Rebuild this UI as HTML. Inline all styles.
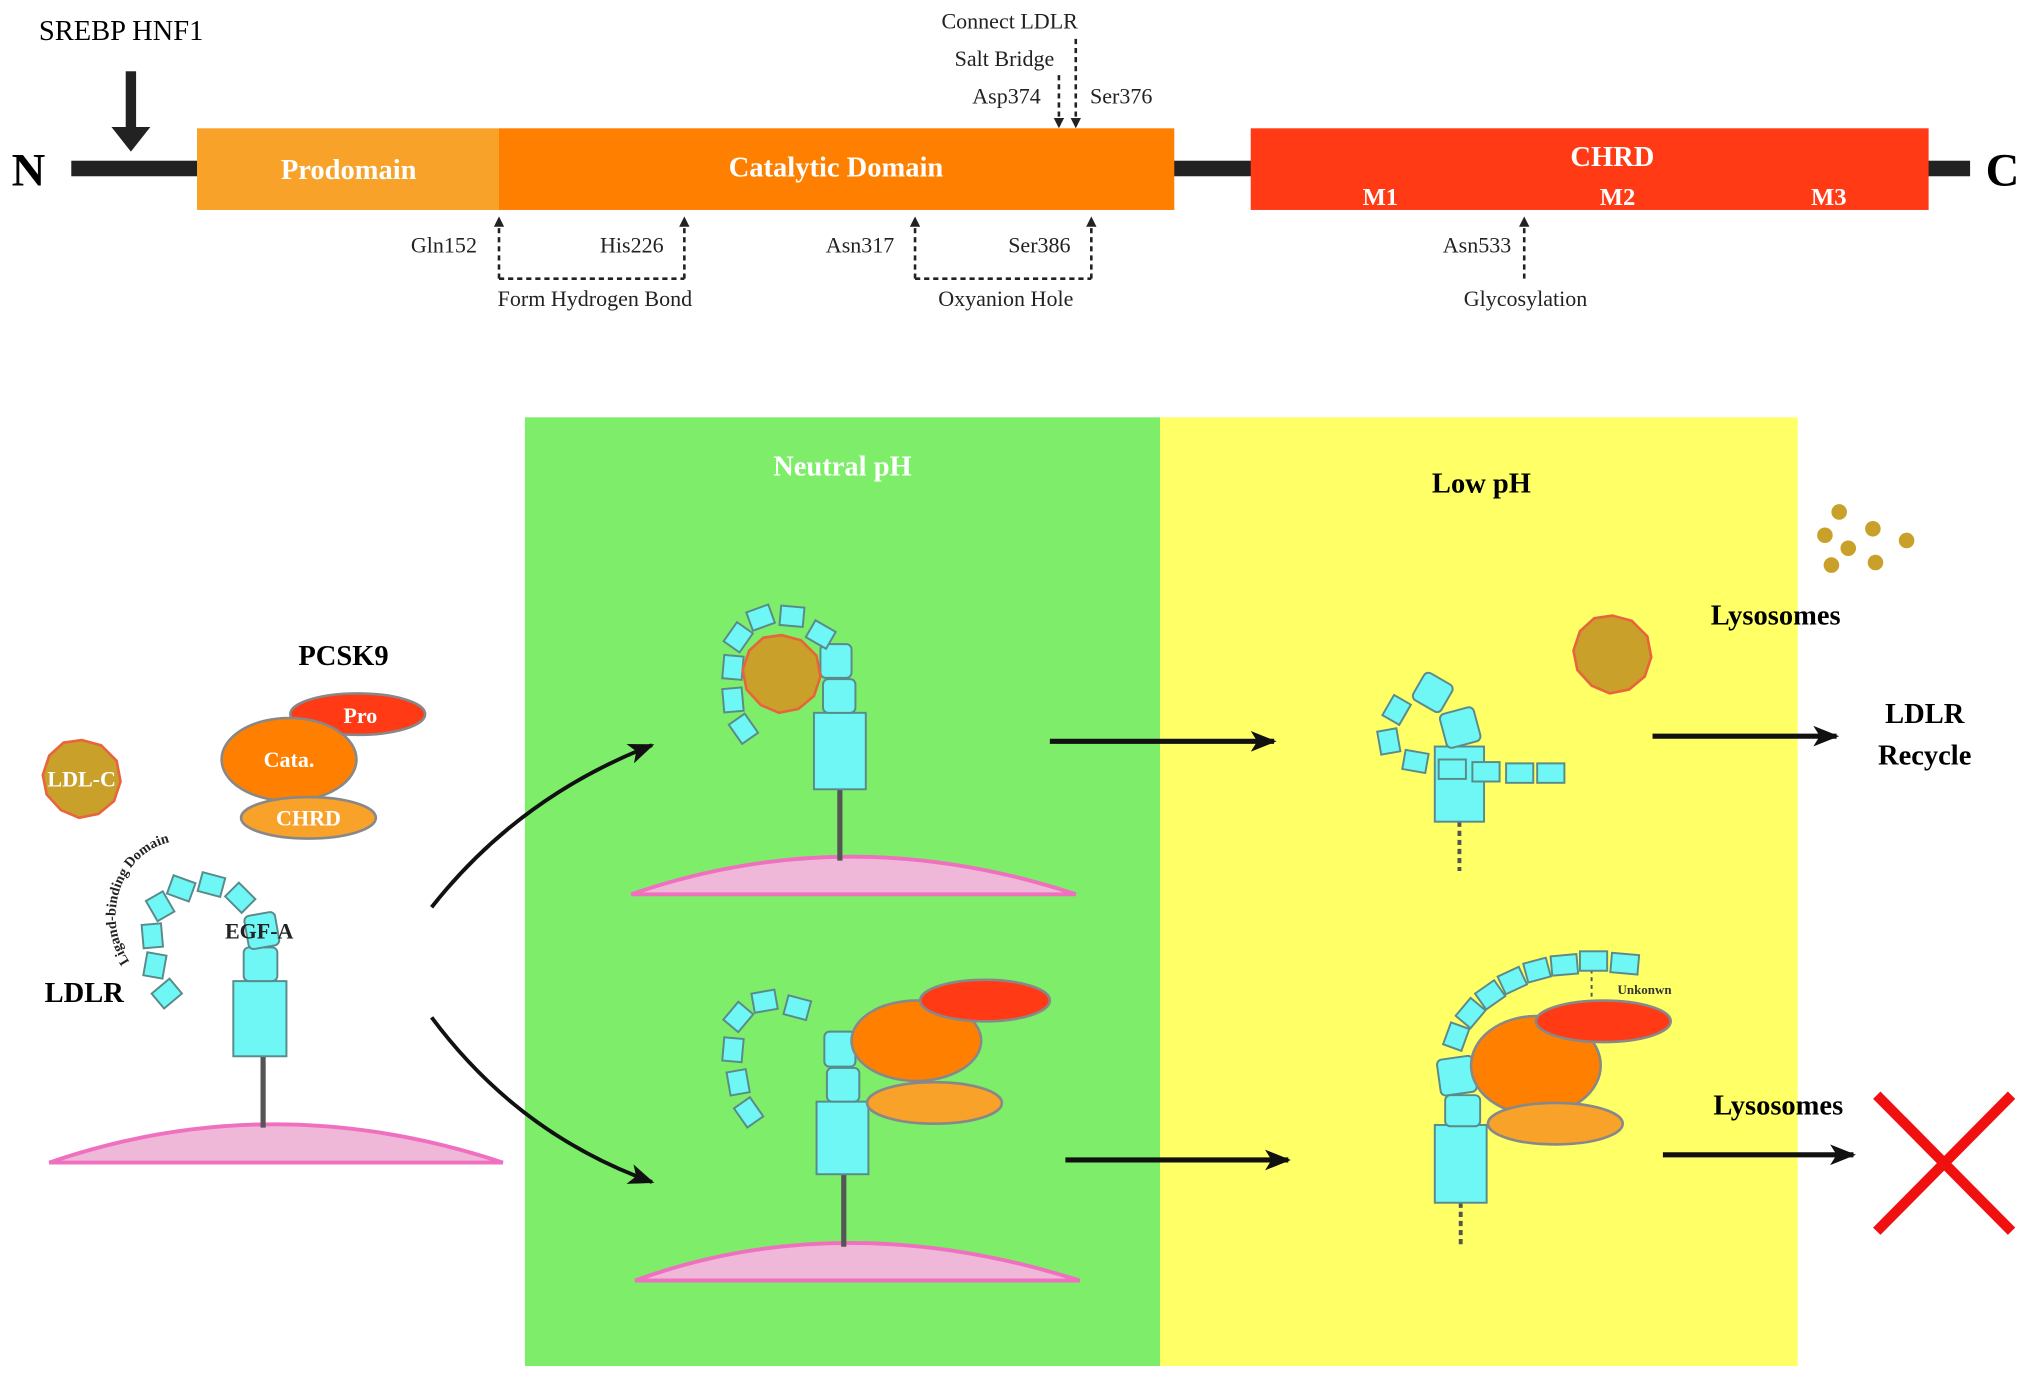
<!DOCTYPE html>
<html><head><meta charset="utf-8"><style>html,body{margin:0;padding:0;background:#fff}svg{display:block}</style></head>
<body>
<svg width="2031" height="1379" viewBox="0 0 1567 1064" preserveAspectRatio="none" xmlns="http://www.w3.org/2000/svg" font-family="Liberation Serif, serif">
<defs>
<marker id="ah" markerWidth="8" markerHeight="8" refX="7" refY="4" orient="auto" markerUnits="userSpaceOnUse"><path d="M0,0 L8,4 L0,8 z" fill="#222"/></marker>
<marker id="ab" markerWidth="20" markerHeight="16" refX="18" refY="8" orient="auto" markerUnits="userSpaceOnUse"><path d="M0,0 L20,8 L0,16 L5,8 z" fill="#111"/></marker>
<path id="arcL" d="M100,742 A52,58 0 0 1 180,668"/>
</defs>
<!-- top bar -->
<rect x="55" y="124" width="1465" height="12" fill="#222"/>
<rect x="152" y="99" width="233" height="63" fill="#f9a22a"/>
<rect x="385" y="99" width="521" height="63" fill="#ff8000"/>
<rect x="965" y="99" width="523" height="63" fill="#ff3a14"/>
<text x="22" y="143" font-size="36" font-weight="bold" text-anchor="middle">N</text>
<text x="1545" y="143" font-size="36" font-weight="bold" text-anchor="middle">C</text>
<g fill="#fff" font-weight="bold" text-anchor="middle">
<text x="269" y="138" font-size="22">Prodomain</text>
<text x="645" y="136" font-size="22">Catalytic Domain</text>
<text x="1244" y="128" font-size="22">CHRD</text>
<text x="1065" y="158" font-size="19">M1</text>
<text x="1248" y="158" font-size="19">M2</text>
<text x="1411" y="158" font-size="19">M3</text>
</g>
<text x="30" y="31" font-size="22">SREBP HNF1</text>
<rect x="97" y="55" width="8" height="47" fill="#222"/>
<path d="M86,98 L116,98 L101,117 z" fill="#222"/>
<g font-size="17" fill="#222">
<text x="779" y="22" text-anchor="middle">Connect LDLR</text>
<text x="775" y="51" text-anchor="middle">Salt Bridge</text>
<text x="803" y="80" text-anchor="end">Asp374</text>
<text x="841" y="80">Ser376</text>
<text x="368" y="195" text-anchor="end">Gln152</text>
<text x="512" y="195" text-anchor="end">His226</text>
<text x="690" y="195" text-anchor="end">Asn317</text>
<text x="826" y="195" text-anchor="end">Ser386</text>
<text x="1166" y="195" text-anchor="end">Asn533</text>
<text x="459" y="236" text-anchor="middle">Form Hydrogen Bond</text>
<text x="776" y="236" text-anchor="middle">Oxyanion Hole</text>
<text x="1177" y="236" text-anchor="middle">Glycosylation</text>
</g>
<g stroke="#222" stroke-width="2" stroke-dasharray="4,3" fill="none">
<path d="M817,58 L817,98" marker-end="url(#ah)"/>
<path d="M830,30 L830,98" marker-end="url(#ah)"/>
<path d="M385,215 L385,168" marker-end="url(#ah)"/>
<path d="M528,215 L528,168" marker-end="url(#ah)"/>
<path d="M385,215 L528,215"/>
<path d="M706,215 L706,168" marker-end="url(#ah)"/>
<path d="M842,215 L842,168" marker-end="url(#ah)"/>
<path d="M706,215 L842,215"/>
<path d="M1176,215 L1176,168" marker-end="url(#ah)"/>
</g>
<!-- panels -->
<rect x="405" y="322" width="490" height="732" fill="#7ded6a"/>
<rect x="895" y="322" width="492" height="732" fill="#ffff66"/>
<text x="650" y="367" font-size="22" font-weight="bold" fill="#fff" text-anchor="middle">Neutral pH</text>
<text x="1143" y="380" font-size="22" font-weight="bold" text-anchor="middle">Low pH</text>
<g font-size="22" font-weight="bold" text-anchor="middle">
<text x="1370" y="482">Lysosomes</text>
<text x="1485" y="558">LDLR</text>
<text x="1485" y="590">Recycle</text>
<text x="1372" y="860">Lysosomes</text>
<text x="265" y="513">PCSK9</text>
<text x="65" y="773">LDLR</text>
</g>
<!-- left PCSK9 -->
<ellipse cx="276" cy="551" rx="52" ry="16" fill="#ff3a14" stroke="#888" stroke-width="2"/>
<ellipse cx="223" cy="586" rx="52" ry="32" fill="#ff8000" stroke="#888" stroke-width="2"/>
<ellipse cx="238" cy="631" rx="52" ry="16" fill="#f9a22a" stroke="#888" stroke-width="2"/>
<g fill="#fff" font-size="17" font-weight="bold" text-anchor="middle">
<text x="278" y="558">Pro</text><text x="223" y="592">Cata.</text><text x="238" y="637">CHRD</text>
</g>
<polygon points="63,571 78,575 90,587 93,603 88,618 76,628 61,631 47,625 36,613 33,598 38,583 49,573" fill="#c8a02a" stroke="#e8643c" stroke-width="2"/>
<text x="63" y="607" fill="#fff" font-size="17" font-weight="bold" text-anchor="middle">LDL-C</text>
<!-- membranes -->
<g fill="#efb8d8" stroke="#f070c0" stroke-width="3">
<path d="M38,897 Q210,838 388,897 Z"/>
<path d="M487,690 Q655,632 830,690 Z"/>
<path d="M490,988 Q650,930 833,988 Z"/>
</g>
<g stroke="#555" stroke-width="4"><line x1="203" y1="815" x2="203" y2="870"/><line x1="648" y1="609" x2="648" y2="664"/><line x1="651" y1="906" x2="651" y2="962"/></g>
<g stroke="#555" stroke-width="3" stroke-dasharray="4,3"><line x1="1126" y1="634" x2="1126" y2="672"/><line x1="1127" y1="928" x2="1127" y2="962"/></g>
<line x1="1228" y1="748" x2="1228" y2="772" stroke="#555" stroke-width="1.5" stroke-dasharray="3,3"/>
<!-- cyan shapes -->
<g fill="#6ef7f5" stroke="#5a8a8a" stroke-width="1.5">
<!-- left LDLR -->
<rect x="180" y="757" width="41" height="58"/>
<rect x="188" y="731" width="26" height="26" rx="4"/>
<rect x="190" y="705" width="24" height="26" rx="4" transform="rotate(-10 202 718)"/>
<rect x="120" y="759" width="18" height="15" transform="rotate(-40 129 767)"/>
<rect x="111" y="737" width="18" height="15" transform="rotate(-80 120 745)"/>
<rect x="109" y="714" width="18" height="15" transform="rotate(-95 118 722)"/>
<rect x="115" y="691" width="18" height="15" transform="rotate(-120 124 699)"/>
<rect x="131" y="677" width="18" height="15" transform="rotate(-160 140 685)"/>
<rect x="154" y="675" width="18" height="15" transform="rotate(15 163 683)"/>
<rect x="176" y="685" width="18" height="15" transform="rotate(45 185 693)"/>
<!-- neutral top -->
<rect x="628" y="550" width="40" height="59"/>
<rect x="635" y="524" width="25" height="26" rx="4"/>
<rect x="633" y="497" width="24" height="26" rx="4"/>
<rect x="624" y="482" width="18" height="15" transform="rotate(30 633 490)"/>
<rect x="602" y="468" width="18" height="15" transform="rotate(5 611 476)"/>
<rect x="578" y="469" width="18" height="15" transform="rotate(-20 587 477)"/>
<rect x="561" y="484" width="18" height="15" transform="rotate(-55 570 492)"/>
<rect x="557" y="507" width="18" height="15" transform="rotate(-85 566 515)"/>
<rect x="557" y="532" width="18" height="15" transform="rotate(-95 566 540)"/>
<rect x="565" y="554" width="18" height="15" transform="rotate(-125 574 562)"/>
<!-- neutral bottom -->
<rect x="630" y="850" width="40" height="56"/>
<rect x="638" y="824" width="25" height="26" rx="4"/>
<rect x="636" y="796" width="24" height="27" rx="4"/>
<rect x="606" y="770" width="18" height="15" transform="rotate(15 615 778)"/>
<rect x="581" y="765" width="18" height="15" transform="rotate(-10 590 773)"/>
<rect x="561" y="777" width="18" height="15" transform="rotate(-50 570 785)"/>
<rect x="557" y="802" width="18" height="15" transform="rotate(-85 566 810)"/>
<rect x="561" y="827" width="18" height="15" transform="rotate(-100 570 835)"/>
<rect x="569" y="850" width="18" height="15" transform="rotate(-125 578 858)"/>
<!-- low top -->
<rect x="1107" y="576" width="38" height="58"/>
<rect x="1113" y="548" width="27" height="27" rx="4" transform="rotate(-15 1126 561)"/>
<rect x="1093" y="522" width="25" height="24" rx="4" transform="rotate(30 1105 534)"/>
<rect x="1069" y="540" width="18" height="15" transform="rotate(-60 1078 548)"/>
<rect x="1063" y="564" width="18" height="15" transform="rotate(-100 1072 572)"/>
<rect x="1083" y="580" width="18" height="15" transform="rotate(10 1092 588)"/>
<rect x="1110" y="586" width="21" height="15"/>
<rect x="1136" y="588" width="21" height="15"/>
<rect x="1162" y="589" width="21" height="15"/>
<rect x="1186" y="589" width="21" height="15"/>
<!-- low bottom -->
<rect x="1107" y="868" width="40" height="60"/>
<rect x="1115" y="845" width="27" height="24" rx="4"/>
<rect x="1110" y="816" width="28" height="28" rx="4" transform="rotate(-8 1124 830)"/>
<rect x="1115" y="792" width="18" height="15" transform="rotate(-70 1124 800)"/>
<rect x="1126" y="774" width="18" height="15" transform="rotate(-50 1135 782)"/>
<rect x="1141" y="760" width="18" height="15" transform="rotate(-35 1150 768)"/>
<rect x="1158" y="749" width="18" height="15" transform="rotate(-25 1167 757)"/>
<rect x="1177" y="741" width="18" height="15" transform="rotate(-15 1186 749)"/>
<rect x="1197" y="737" width="20" height="15" transform="rotate(-5 1207 745)"/>
<rect x="1219" y="734" width="21" height="15"/>
<rect x="1243" y="736" width="21" height="15" transform="rotate(5 1253 744)"/>
</g>
<text fill="#222" font-size="17" font-weight="bold" text-anchor="middle" x="200" y="724">EGF-A</text>
<text font-size="11" font-weight="bold" fill="#222"><textPath href="#arcL">Ligand-binding Domain</textPath></text>
<!-- LDL particles -->
<polygon points="603,490 618,494 630,506 633,522 628,537 616,547 601,550 587,544 576,532 573,517 578,502 589,492" fill="#c8a02a" stroke="#e8643c" stroke-width="2"/>
<polygon points="1244,475 1259,479 1271,491 1274,507 1269,522 1257,532 1242,535 1228,529 1217,517 1214,502 1219,487 1230,477" fill="#c8a02a" stroke="#e8643c" stroke-width="2"/>
<g fill="#c8a02a"><circle cx="1419" cy="395" r="6"/><circle cx="1408" cy="413" r="6"/><circle cx="1445" cy="408" r="6"/><circle cx="1426" cy="423" r="6"/><circle cx="1471" cy="417" r="6"/><circle cx="1413" cy="436" r="6"/><circle cx="1447" cy="434" r="6"/></g>
<!-- PCSK9 bound -->
<g stroke="#888" stroke-width="2">
<ellipse cx="707" cy="803" rx="50" ry="31" fill="#ff8000"/>
<ellipse cx="760" cy="772" rx="50" ry="16" fill="#ff3a14"/>
<ellipse cx="721" cy="851" rx="52" ry="16" fill="#f9a22a"/>
<ellipse cx="1185" cy="822" rx="50" ry="38" fill="#ff8000"/>
<ellipse cx="1237" cy="788" rx="52" ry="16" fill="#ff3a14"/>
<ellipse cx="1200" cy="867" rx="52" ry="16" fill="#f9a22a"/>
</g>
<text x="1248" y="767" font-size="10" font-weight="bold" fill="#333">Unkonwn</text>
<!-- arrows -->
<g stroke="#111" stroke-width="4" fill="none">
<path d="M810,572 L983,572" marker-end="url(#ab)"/>
<path d="M1275,568 L1417,568" marker-end="url(#ab)"/>
<path d="M822,895 L994,895" marker-end="url(#ab)"/>
<path d="M1283,891 L1430,891" marker-end="url(#ab)"/>
<path d="M333,700 Q400,615 503,575" stroke-width="3" marker-end="url(#ab)"/>
<path d="M333,785 Q400,875 503,912" stroke-width="3" marker-end="url(#ab)"/>
</g>
<g stroke="#f01010" stroke-width="8"><line x1="1448" y1="845" x2="1552" y2="950"/><line x1="1552" y1="845" x2="1448" y2="950"/></g>
</svg>
</body></html>
